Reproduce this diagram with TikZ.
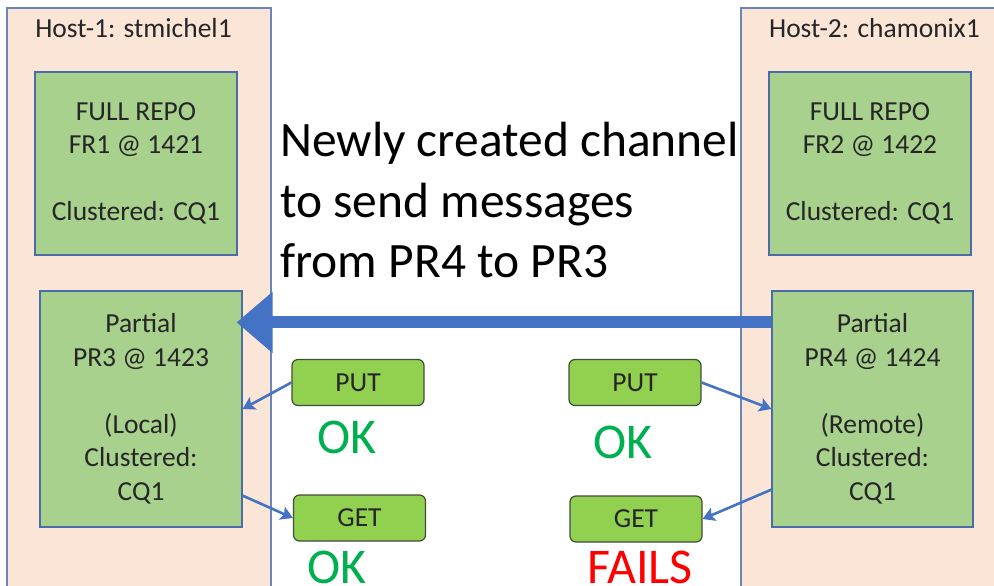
\documentclass[tikz,border=0pt]{standalone}
\usepackage{fontspec}
\setmainfont{Carlito}
\usetikzlibrary{arrows.meta,calc}

\definecolor{hostfill}{HTML}{FBE5D6}
\definecolor{hostline}{HTML}{6A84BC}
\definecolor{repofill}{HTML}{A9D18E}
\definecolor{repoline}{HTML}{4A6DA8}
\definecolor{opfill}{HTML}{92D050}
\definecolor{opline}{HTML}{3E4E3A}
\definecolor{linkblue}{HTML}{4472C4}
\definecolor{okgreen}{HTML}{00B050}
\definecolor{failred}{HTML}{FF0000}

\tikzset{
  host/.style={draw=hostline, fill=hostfill, line width=1.2pt, inner sep=0pt},
  hostlabel/.style={font=\fontsize{27.5}{30}\selectfont, text=black!85, inner sep=0pt},
  repo/.style={draw=repoline, fill=repofill, line width=1.2pt, inner sep=0pt,
    align=center, font=\fontsize{27.5}{33.5}\selectfont, text=black!85},
  op/.style={draw=opline, fill=opfill, line width=1.2pt, rounded corners=6pt,
    inner sep=0pt, minimum width=132pt, minimum height=46pt,
    font=\fontsize{27.5}{30}\selectfont, text=black!85},
  status/.style={font=\fontsize{50}{52}\selectfont, inner sep=0pt},
  headline/.style={font=\fontsize{49.5}{60}\selectfont, anchor=base west, inner sep=0pt},
  link/.style={draw=linkblue, line width=2.6pt,
    -{Stealth[length=12pt,width=14pt,inset=2.5pt]}},
  channel/.style={draw=linkblue, line width=12pt,
    -{Triangle[length=36pt,width=59pt]}},
}

\begin{document}
\begin{tikzpicture}[x=1pt, y=-1pt]
  \useasboundingbox (0,0) rectangle (994,586);
  \clip (0,0) rectangle (994,586);

  % the two hosts
  \node[host, minimum width=264pt, minimum height=592pt] (host1) at (139,304) {};
  \node[host, minimum width=264pt, minimum height=592pt] (host2) at (873,304) {};
  \node[hostlabel] (host1label) at (133.5,28) {Host-1: stmichel1};
  \node[hostlabel] (host2label) at (874.5,28) {Host-2: chamonix1};

  % repositories
  \node[repo, minimum width=202pt, minimum height=183pt] (fr1) at (136,163.5)
    {FULL REPO\\FR1 @ 1421\\[33.5pt]Clustered: CQ1};
  \node[repo, minimum width=202pt, minimum height=183pt] (fr2) at (870,163.5)
    {FULL REPO\\FR2 @ 1422\\[33.5pt]Clustered: CQ1};
  \node[repo, minimum width=202pt, minimum height=236pt] (pr3) at (141,409)
    {Partial\\PR3 @ 1423\\[33.5pt](Local)\\Clustered:\\CQ1};
  \node[repo, minimum width=201pt, minimum height=236pt] (pr4) at (872.5,409)
    {Partial\\PR4 @ 1424\\[33.5pt](Remote)\\Clustered:\\CQ1};

  % operations
  \node[op] (put1) at (358,382.5) {PUT};
  \node[op] (get1) at (359.5,518) {GET};
  \node[op] (put2) at (635,382.5) {PUT};
  \node[op] (get2) at (636,519) {GET};

  % results
  \node[status, text=okgreen] (ok1) at (347,437) {OK};
  \node[status, text=okgreen] (ok2) at (623,442) {OK};
  \node[status, text=okgreen, anchor=base, text depth=0pt] (ok3) at (337,583) {OK};
  \node[status, text=failred, anchor=base, text depth=0pt] (fails) at (640,583) {FAILS};

  % headline
  \node[headline] (title1) at (280,157) {Newly created channel};
  \node[headline] (title2) at (280,217) {to send messages};
  \node[headline] (title3) at (280,277) {from PR4 to PR3};

  % new channel from PR4 to PR3
  \draw[channel] ($(pr4.north west)+(0,32)$) -- ($(pr3.north east)+(-6,32)$);

  % put / get connectors
  \draw[link] (put1.west) -- (pr3.east);
  \draw[link] ($(pr3.south east)+(0,-32)$) -- (get1.west);
  \draw[link] (put2.east) -- (pr4.west);
  \draw[link] ($(pr4.south west)+(0,-38)$) -- (get2.east);
\end{tikzpicture}
\end{document}
